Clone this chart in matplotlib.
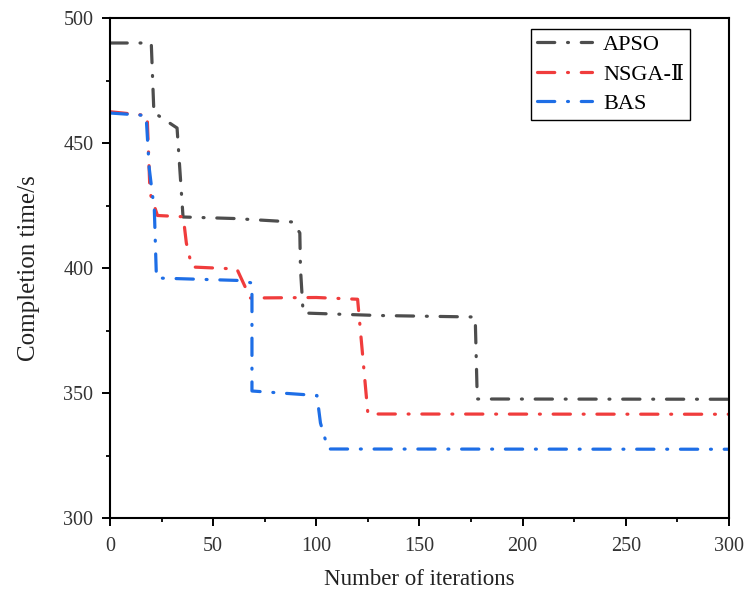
import matplotlib
matplotlib.use("Agg")
import matplotlib.pyplot as plt
from matplotlib.ticker import MultipleLocator

plt.rcParams['font.family'] = ['Liberation Serif', 'DejaVu Serif', 'Noto Sans CJK SC']

apso_x = [0, 20, 21.3, 22.5, 32.5, 35.4, 60, 88.7, 92, 92.3, 93.6, 130, 177, 178, 300]
apso_y = [490, 490, 461.6, 461.5, 456, 420.4, 419.8, 418.4, 414, 400, 382, 381, 380.4, 347.6, 347.5]

nsga_x = [0, 18, 19.4, 23, 35.5, 37, 39.7, 61.5, 68, 100, 120, 125, 300]
nsga_y = [462.5, 461, 430, 421, 420.5, 410, 400.4, 399.6, 388, 388.2, 387.5, 341.6, 341.5]

bas_x = [0, 17.5, 19, 21.5, 22.5, 63, 68.8, 68.8, 100.3, 102, 105.7, 300]
bas_y = [462, 461, 440, 423, 396, 395, 394, 350.8, 349, 338, 327.6, 327.5]

labels = ['APSO', 'NSGA-Ⅱ', 'BAS']
colors = ['#4d4d4d', '#f03c3c', '#1e6ee6']

fig = plt.figure(figsize=(7.47, 5.94), dpi=100)
ax = fig.add_axes([110/747, 1-518/594, (729-110)/747, (518-18)/594])

series = [(apso_x, apso_y), (nsga_x, nsga_y), (bas_x, bas_y)]
for (xs, ys), lab, c in zip(series, labels, colors):
    ln, = ax.plot(xs, ys, color=c, lw=2.3, label=lab)
    ln.set_dashes((5.4, 4.0, 0.3, 4.0))
    ln.set_dash_capstyle('round')

ax.set_xlim(0, 300)
ax.set_ylim(300, 500)
ax.xaxis.set_major_locator(MultipleLocator(50))
ax.xaxis.set_minor_locator(MultipleLocator(25))
ax.yaxis.set_major_locator(MultipleLocator(50))
ax.yaxis.set_minor_locator(MultipleLocator(25))
ax.tick_params(which='major', direction='out', length=6, width=1.4, labelsize=14.5,
               top=False, right=False, pad=6, labelcolor='#333333')
ax.tick_params(axis='x', which='major', pad=8)
ax.tick_params(which='minor', direction='out', length=3, width=1.3, top=False, right=False)
for s in ax.spines.values():
    s.set_linewidth(1.5)

ax.set_xlabel('Number of iterations', fontsize=16.5, labelpad=9, color='#222222')
ax.set_ylabel('Completion time/s', fontsize=18, labelpad=17, color='#222222')

leg = ax.legend(loc='upper left', bbox_to_anchor=(531/747, 1-29/594), bbox_transform=fig.transFigure,
                fontsize=16, frameon=True, fancybox=False, edgecolor='black', framealpha=1,
                handlelength=2.5, borderpad=0.25, borderaxespad=0, labelspacing=0.4,
                handletextpad=0.5)
leg.get_frame().set_linewidth(1.0)

fig.savefig('out.png', dpi=100)
